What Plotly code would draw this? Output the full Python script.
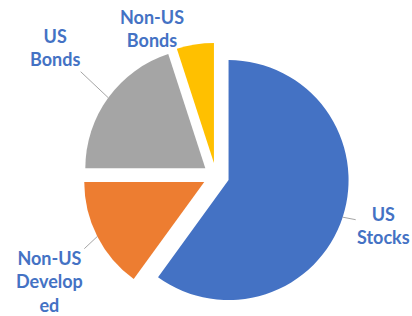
import math
import plotly.graph_objects as go

labels = ["US Stocks", "Non-US Developed", "US Bonds", "Non-US Bonds"]
display_labels = ["US<br>Stocks", "Non-US<br>Develop<br>ed", "US<br>Bonds", "Non-US<br>Bonds"]
values = [60, 15, 20, 5]
colors = ["#4472C4", "#ED7D31", "#A5A5A5", "#FFC000"]

# layout (pixels)
W, H = 412, 316
PULL = 0.11
CX, CY, R = 216, 176, 120          # intended pie centre / radius in px
box = R * (1 + PULL)
# label offsets (px) from the outer-arc anchor of each slice, and whether a leader line is drawn
label_offsets = [(41, 8), (-48, 45), (-53, -50), (-43, -16)]
leader = [True, True, True, False]

fig = go.Figure(go.Pie(
    labels=labels,
    values=values,
    textinfo="none",
    sort=False,
    direction="clockwise",
    rotation=0,
    pull=PULL,
    marker=dict(colors=colors, line=dict(width=0)),
    domain=dict(x=[(CX - box) / W, (CX + box) / W], y=[1 - (CY + box) / H, 1 - (CY - box) / H]),
    showlegend=False,
    hoverinfo="label+percent",
))

total = sum(values)
cum = 0
for lab, v, (ox, oy), ld in zip(display_labels, values, label_offsets, leader):
    mid = (cum + v / 2) / total * 2 * math.pi
    cum += v
    px = CX + box * math.sin(mid)
    py = CY - box * math.cos(mid)
    font = dict(family="Lato", size=18, color="#4472C4", weight="bold")
    if ld:
        fig.add_annotation(x=px / W, y=1 - py / H, xref="paper", yref="paper",
                           text=lab, showarrow=True, arrowhead=0, arrowwidth=1,
                           arrowcolor="#A5A5A5", ax=ox, ay=oy, font=font, align="center")
    else:
        fig.add_annotation(x=px / W, y=1 - py / H, xref="paper", yref="paper",
                           text=lab, showarrow=False, xshift=ox, yshift=-oy,
                           xanchor="center", yanchor="middle",
                           font=font, align="center")

fig.update_layout(
    width=W, height=H,
    margin=dict(l=0, r=0, t=0, b=0),
    paper_bgcolor="white", plot_bgcolor="white",
)
fig.write_html("out.html", config={"displayModeBar": False},
               post_script="document.body.style.margin='0';document.body.style.overflow='hidden';")
